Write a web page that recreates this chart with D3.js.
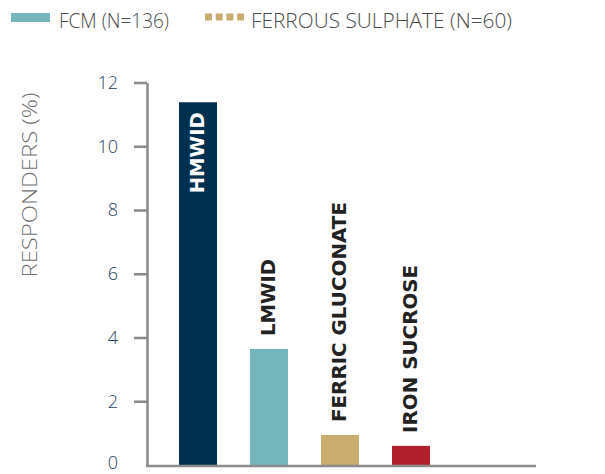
<!DOCTYPE html>
<html><head><meta charset="utf-8">
<script src="https://cdn.jsdelivr.net/npm/d3@7"></script>
<style>body{margin:0;background:#fff}svg{display:block}</style>
</head><body>
<script>
const categories = ["HMWID", "LMWID", "FERRIC GLUCONATE", "IRON SUCROSE"];
const values = [11.38, 3.64, 0.94, 0.6];
const barColors = ["#00304f", "#74b6bb", "#c9ad6e", "#b21f2c"];
const labelColors = ["#ffffff", "#222222", "#222222", "#222222"];
const yTicks = [0, 2, 4, 6, 8, 10, 12];
const legendItems = ["FCM (N=136)", "FERROUS SULPHATE (N=60)"];
const yTitle = "RESPONDERS (%)";

const W = 605, H = 474;
const svg = d3.select("body").append("svg").attr("width", W).attr("height", H);
const font = "'Open Sans', 'DejaVu Sans', sans-serif";
const boldFont = "'DejaVu Sans', sans-serif";

const y = d3.scaleLinear().domain([0, 12]).range([465, 82.5]);
const x = d3.scaleBand().domain(categories).range([148, 461]).paddingInner(0.465).paddingOuter(0.437);

// bars
svg.selectAll("rect.bar").data(categories).join("rect")
  .attr("class", "bar")
  .attr("x", d => x(d))
  .attr("width", x.bandwidth())
  .attr("y", (d, i) => y(values[i]))
  .attr("height", (d, i) => y(0) - y(values[i]))
  .attr("fill", (d, i) => barColors[i]);

// y axis
const ax = svg.append("g").attr("transform", "translate(147,0)")
  .call(d3.axisLeft(y).tickValues(yTicks).tickSize(13).tickSizeOuter(0).tickPadding(16));
ax.select(".domain").attr("stroke", "#8c8c8c").attr("stroke-width", 2.6);
ax.selectAll(".tick line").attr("stroke", "#8c8c8c").attr("stroke-width", 2.6);
ax.selectAll(".tick").filter(d => d === 0).select("line").remove();
ax.selectAll(".tick text").attr("fill", "#1d3f5e").attr("font-size", 18)
  .attr("font-family", font).attr("font-weight", 300);
ax.selectAll(".tick").filter(d => d === 0).select("text").attr("dy", "0.2em");

// x baseline
svg.append("line").attr("x1", 146).attr("x2", 536).attr("y1", 466).attr("y2", 466)
  .attr("stroke", "#8c8c8c").attr("stroke-width", 2.4);

// y title
svg.append("text").attr("transform", "translate(37,185) rotate(-90)")
  .attr("text-anchor", "middle").attr("font-family", font).attr("font-weight", 300)
  .attr("font-size", 19.5).attr("fill", "#6f6f6f")
  .attr("textLength", 185).attr("lengthAdjust", "spacingAndGlyphs")
  .text(yTitle);

// bar labels
const labelLen = [81, 77, 220, 168];
svg.selectAll("text.blab").data(categories).join("text")
  .attr("class", "blab")
  .attr("transform", (d, i) => {
    const cx = x(d) + x.bandwidth() / 2 - 1;
    const yy = i === 0 ? y(values[i]) + 10 : y(values[i]) - 13;
    return `translate(${cx},${yy}) rotate(-90)`;
  })
  .attr("text-anchor", (d, i) => i === 0 ? "end" : "start")
  .attr("dy", "0.36em")
  .attr("font-family", boldFont).attr("font-weight", 700).attr("font-size", 20)
  .attr("fill", (d, i) => labelColors[i])
  .attr("textLength", (d, i) => labelLen[i]).attr("lengthAdjust", "spacingAndGlyphs")
  .text(d => d);

// legend
svg.append("rect").attr("x", 11).attr("y", 13).attr("width", 39).attr("height", 9).attr("fill", "#74b6bb");
svg.append("text").attr("x", 59).attr("y", 28).attr("font-family", font).attr("font-weight", 300)
  .attr("font-size", 19.5).attr("fill", "#4a4a4a")
  .attr("textLength", 110).attr("lengthAdjust", "spacingAndGlyphs").text(legendItems[0]);
svg.append("line").attr("x1", 205).attr("x2", 244).attr("y1", 17).attr("y2", 17)
  .attr("stroke", "#c9ad6e").attr("stroke-width", 7).attr("stroke-dasharray", "7,3.7");
svg.append("text").attr("x", 251).attr("y", 28).attr("font-family", font).attr("font-weight", 300)
  .attr("font-size", 19.5).attr("fill", "#4a4a4a")
  .attr("textLength", 261).attr("lengthAdjust", "spacingAndGlyphs").text(legendItems[1]);
</script>
</body></html>
